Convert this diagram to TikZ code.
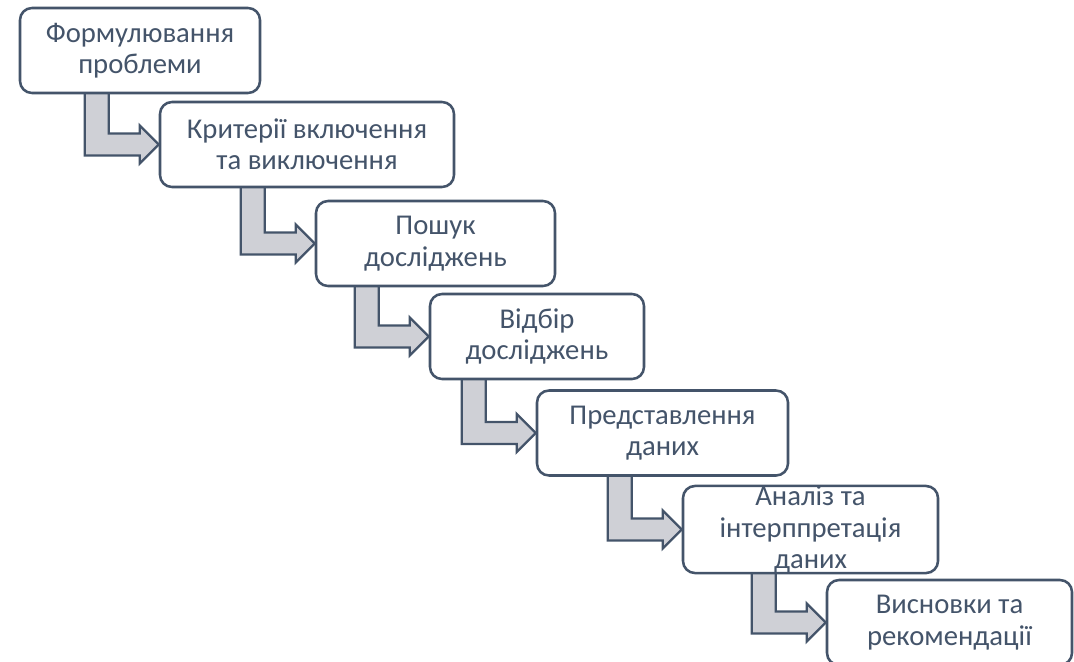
\documentclass[tikz,border=0pt]{standalone}
\usepackage{fontspec}
\setmainfont{Carlito}
\usepackage{tikz}
\usetikzlibrary{calc,backgrounds}
\definecolor{colorline} {RGB}{68 ,84 ,106}
\definecolor{colortext} {RGB}{68 ,84 ,106}
\definecolor{colorarrow}{RGB}{207,208,214}

\begin{document}
\begin{tikzpicture}[
    x=0.75pt, y=-0.75pt,
    font={\fontsize{21.5}{23.5}\selectfont},
    base/.style={draw=colorline,fill=white,line width=1.9pt,rounded corners=9pt,
                 text=colortext,align=center,inner sep=0pt,minimum height=63.75pt},
    flowarrow/.style={draw=colorline,fill=colorarrow,line width=1.8pt,line join=miter},
]
    \useasboundingbox (0,0) rectangle (1074,661);

    \node[base,minimum width=180pt]    at (140,50.5)   (formul) {Формулювання\\проблеми};
    \node[base,minimum width=220.5pt]  at (307,144.5)  (krit)   {Критерії включення\\та виключення};
    \node[base,minimum width=179.25pt] at (435.5,243.5) (poshuk) {Пошук\\досліджень};
    \node[base,minimum width=160.5pt]  at (537,336.5)  (vidbir) {Відбір\\досліджень};
    \node[base,minimum width=188.25pt] at (662.5,433)  (predst) {Представлення\\даних};
    \node[base,minimum width=191.25pt] at (810.5,529.5) (analiz) {Аналіз та\\інтерппретація\\даних};
    \node[base,minimum width=183.75pt] at (949.5,622.5) (vysn)   {Висновки та\\рекомендації};

    % bent arrows between the stages
    \begin{scope}[on background layer]
    \foreach \from/\to in {formul/krit,krit/poshuk,poshuk/vidbir,vidbir/predst,predst/analiz,analiz/vysn}{
        \coordinate (tip) at (\to.west);
        \coordinate (top) at (\to.west |- \from.south);
        \draw[flowarrow] ($(top)+(-74,-3)$) |- ($(tip)+(-19,11)$) -- ++(0,8) -- (tip)
            -- ($(tip)+(-19,-19)$) -- ++(0,8) -| ($(top)+(-50,-3)$) -- cycle;
    }
    \end{scope}

\end{tikzpicture}
\end{document}
